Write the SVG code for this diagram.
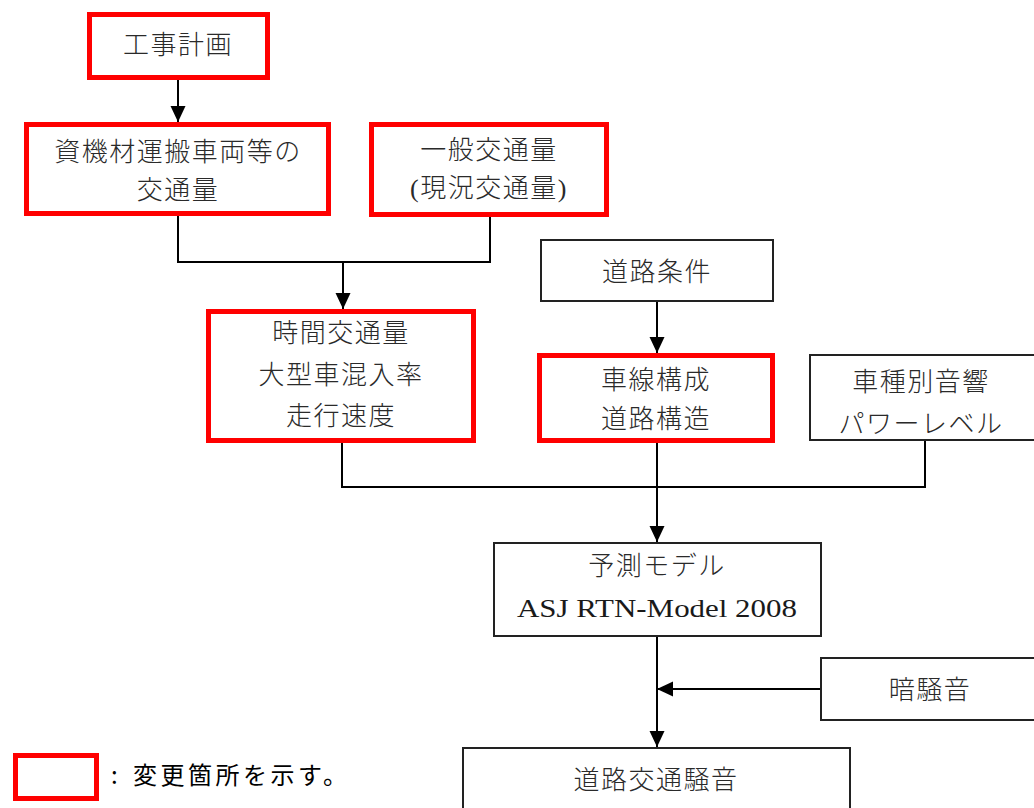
<svg xmlns="http://www.w3.org/2000/svg" width="1034" height="808" viewBox="0 0 1034 808">
<style>
.red{fill:#fff;stroke:#f00;stroke-width:5}
.blk{fill:#fff;stroke:#222;stroke-width:2}
.t{font-family:"Liberation Serif","Noto Sans CJK JP",serif;font-size:26px;font-weight:300;fill:#2a2a2a;text-anchor:middle;letter-spacing:1.5px}
.c{fill:none;stroke:#000;stroke-width:2}
.legend{font-family:"Noto Sans CJK JP",sans-serif;font-size:24px;fill:#000;letter-spacing:3.5px}
</style>
<defs>
<marker id="ah" markerUnits="userSpaceOnUse" markerWidth="16" markerHeight="16" viewBox="0 0 16 16" refX="16" refY="8" orient="auto">
<path d="M0,0.5 L16,8 L0,15.5 z" fill="#000"/>
</marker>
</defs>
<rect width="1034" height="808" fill="#fff"/>
<g id="connectors">
<line class="c" x1="178" y1="80" x2="178" y2="122" marker-end="url(#ah)"/>
<polyline class="c" points="178,216 178,262 490,262 490,217"/>
<line class="c" x1="343" y1="262" x2="343" y2="309" marker-end="url(#ah)"/>
<line class="c" x1="657" y1="302" x2="657" y2="353" marker-end="url(#ah)"/>
<polyline class="c" points="342,443 342,487 925,487 925,440"/>
<line class="c" x1="657" y1="443" x2="657" y2="542" marker-end="url(#ah)"/>
<line class="c" x1="657" y1="636" x2="657" y2="747" marker-end="url(#ah)"/>
<line class="c" x1="821" y1="689" x2="657" y2="689" marker-end="url(#ah)"/>
</g>
<g id="n_koji">
<rect class="red" x="89.5" y="14.5" width="178" height="63"/>
<text class="t" x="178" y="54">工事計画</text>
</g>
<g id="n_shizai">
<rect class="red" x="26.5" y="124.5" width="302" height="89"/>
<text class="t" x="178" y="160.5">資機材運搬車両等の</text>
<text class="t" x="178" y="198.5">交通量</text>
</g>
<g id="n_ippan">
<rect class="red" x="371.5" y="124.5" width="235" height="90"/>
<text class="t" x="489" y="159">一般交通量</text>
<text class="t" x="489" y="197">(現況交通量)</text>
</g>
<g id="n_doro_joken">
<rect class="blk" x="541" y="240" width="232" height="61"/>
<text class="t" x="657" y="280.5">道路条件</text>
</g>
<g id="n_jikan">
<rect class="red" x="208.5" y="311.5" width="265" height="129"/>
<text class="t" x="341" y="342">時間交通量</text>
<text class="t" x="341" y="384">大型車混入率</text>
<text class="t" x="341" y="425">走行速度</text>
</g>
<g id="n_shasen">
<rect class="red" x="539.5" y="355.5" width="233" height="85"/>
<text class="t" x="656" y="389">車線構成</text>
<text class="t" x="656" y="428">道路構造</text>
</g>
<g id="n_shashu">
<rect class="blk" x="810" y="355" width="230" height="85"/>
<text class="t" x="921" y="391">車種別音響</text>
<text class="t" x="921" y="433">パワーレベル</text>
</g>
<g id="n_yosoku">
<rect class="blk" x="494" y="543" width="327" height="93"/>
<text class="t" x="657" y="575">予測モデル</text>
<text x="517" y="617" font-family="Liberation Serif, serif" font-size="26" fill="#1a1a1a" textLength="280" lengthAdjust="spacingAndGlyphs">ASJ RTN-Model 2008</text>
</g>
<g id="n_anzatsu">
<rect class="blk" x="821" y="658" width="220" height="62"/>
<text class="t" x="930" y="699">暗騒音</text>
</g>
<g id="n_doro_soon">
<rect class="blk" x="463" y="748" width="387" height="70"/>
<text class="t" x="656" y="789">道路交通騒音</text>
</g>
<g id="legend">
<rect x="15.5" y="755.5" width="81" height="43" fill="#fff" stroke="#f00" stroke-width="5"/>
<text class="legend" x="111" y="784">:</text>
<text class="legend" x="133" y="784">変更箇所を示す。</text>
</g>
</svg>
